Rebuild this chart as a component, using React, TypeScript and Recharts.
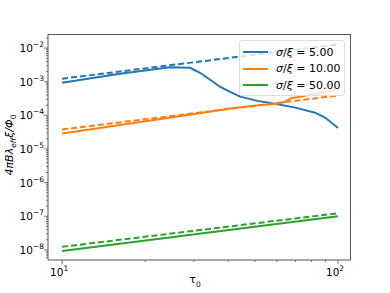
import { LineChart, Line, XAxis, YAxis } from "recharts";

// tau readings and values for each curve
const blueTau = [10, 16.2, 24.6, 29.1, 31.6, 34.4, 37.3, 40.6, 44.2, 51, 59, 70, 82.6, 90, 100];
const blueSolid = [9.3e-4, 1.73e-3, 2.7e-3, 2.6e-3, 1.85e-3, 1.15e-3, 7.1e-4, 5e-4, 3.6e-4, 2.7e-4, 2.2e-4, 1.7e-4, 1.2e-4, 8.5e-5, 4.2e-5];
const blueDashTau = [10, 100];
const blueDashed = [1.23e-3, 1.3e-2];

const orangeTau = [10, 29, 40.7, 50, 60, 64, 68, 72, 100];
const orangeSolid = [2.9e-5, 1.05e-4, 1.6e-4, 1.95e-4, 2.2e-4, 2.5e-4, 3.3e-4, 3.5e-4, 6.0e-4];
const orangeDashTau = [10, 100];
const orangeDashed = [3.8e-5, 3.9e-4];

const greenTau = [10, 100];
const greenSolid = [9.3e-9, 1.0e-7];
const greenDashed = [1.23e-8, 1.23e-7];

const xTicks = [10, 20, 30, 40, 50, 60, 70, 80, 90, 100];
const yTicks = [
  6e-9, 7e-9, 8e-9, 9e-9,
  1e-8, 2e-8, 3e-8, 4e-8, 5e-8, 6e-8, 7e-8, 8e-8, 9e-8,
  1e-7, 2e-7, 3e-7, 4e-7, 5e-7, 6e-7, 7e-7, 8e-7, 9e-7,
  1e-6, 2e-6, 3e-6, 4e-6, 5e-6, 6e-6, 7e-6, 8e-6, 9e-6,
  1e-5, 2e-5, 3e-5, 4e-5, 5e-5, 6e-5, 7e-5, 8e-5, 9e-5,
  1e-4, 2e-4, 3e-4, 4e-4, 5e-4, 6e-4, 7e-4, 8e-4, 9e-4,
  1e-3, 2e-3, 3e-3, 4e-3, 5e-3, 6e-3, 7e-3, 8e-3, 9e-3,
  1e-2, 2e-2,
];
const legendLabels = ["5.00", "10.00", "50.00"];
const colors = ["#1f77b4", "#ff7f0e", "#2ca02c"];

const toPoints = (tau: number[], vals: number[]) => tau.map((t, i) => ({ t, v: vals[i] }));

const FONT = "'DejaVu Sans', sans-serif";
const AXIS = "#555";

const majorExp = (v: number) => {
  const e = Math.round(Math.log10(v));
  return Math.abs(Math.log10(v) - e) < 1e-6 ? e : null;
};

const YTick = (props: any) => {
  const { x, y, payload } = props;
  const e = majorExp(payload.value);
  return (
    <g>
      <line x1={x - (e !== null ? 4 : 2)} x2={x} y1={y} y2={y} stroke={AXIS} strokeWidth={0.8} />
      {e !== null && (
        <text x={x - 4} y={y + 4} textAnchor="end" fontSize={10.5} fontFamily={FONT} fill="#000">
          10<tspan dy={-5} fontSize={7.5}>{e < 0 ? "\u2212" + Math.abs(e) : e}</tspan>
        </text>
      )}
    </g>
  );
};

const XTick = (props: any) => {
  const { x, y, payload } = props;
  const e = majorExp(payload.value);
  return (
    <g>
      <line x1={x} x2={x} y1={y} y2={y + (e !== null ? 4 : 2)} stroke={AXIS} strokeWidth={0.8} />
      {e !== null && (
        <text x={x - 3} y={y + 16} textAnchor="middle" fontSize={10.5} fontFamily={FONT} fill="#000">
          10<tspan dy={-5} fontSize={7.5}>{e}</tspan>
        </text>
      )}
    </g>
  );
};

export default function App() {
  return (
    <div style={{ position: "absolute", left: 0, top: 0, width: 390, height: 293, background: "#fff" }}>
      <LineChart width={390} height={293} margin={{ top: 34, right: 39, left: 0, bottom: 0 }}>
        <XAxis
          dataKey="t"
          type="number"
          scale="log"
          domain={[8.89, 111.4]}
          allowDataOverflow
          ticks={xTicks}
          interval={0}
          tick={<XTick />}
          tickLine={false}
          tickSize={0}
          tickMargin={0}
          height={33}
          axisLine={{ stroke: AXIS }}
        />
        <YAxis
          type="number"
          scale="log"
          domain={[5.0e-9, 2.63e-2]}
          allowDataOverflow
          ticks={yTicks}
          interval={0}
          tick={<YTick />}
          tickLine={false}
          tickSize={0}
          tickMargin={0}
          width={48}
          axisLine={{ stroke: AXIS }}
        />
        <Line data={toPoints(blueTau, blueSolid)} dataKey="v" stroke={colors[0]} strokeWidth={2} dot={false} isAnimationActive={false} />
        <Line data={toPoints(blueDashTau, blueDashed)} dataKey="v" stroke={colors[0]} strokeWidth={2} strokeDasharray="6 3" dot={false} isAnimationActive={false} />
        <Line data={toPoints(orangeTau, orangeSolid)} dataKey="v" stroke={colors[1]} strokeWidth={2} dot={false} isAnimationActive={false} />
        <Line data={toPoints(orangeDashTau, orangeDashed)} dataKey="v" stroke={colors[1]} strokeWidth={2} strokeDasharray="6 3" dot={false} isAnimationActive={false} />
        <Line data={toPoints(greenTau, greenSolid)} dataKey="v" stroke={colors[2]} strokeWidth={2} dot={false} isAnimationActive={false} />
        <Line data={toPoints(greenTau, greenDashed)} dataKey="v" stroke={colors[2]} strokeWidth={2} strokeDasharray="6 3" dot={false} isAnimationActive={false} />
      </LineChart>

      {/* axes frame (top / right spines) */}
      <div
        style={{
          position: "absolute",
          left: 48,
          top: 34,
          width: 303,
          height: 226,
          boxSizing: "border-box",
          borderTop: `1px solid ${AXIS}`,
          borderRight: `1px solid ${AXIS}`,
          pointerEvents: "none",
        }}
      />

      {/* y label */}
      <div
        style={{
          position: "absolute",
          left: 10,
          top: 145,
          transform: "translate(-50%, -50%) rotate(-90deg)",
          whiteSpace: "nowrap",
          fontFamily: FONT,
          fontSize: 11,
          lineHeight: "12px",
          fontStyle: "italic",
        }}
      >
        4πBλ<sub style={{ fontSize: 7.5, lineHeight: 0 }}>eff</sub>ξ/Φ<sub style={{ fontSize: 7.5, lineHeight: 0, fontStyle: "normal" }}>0</sub>
      </div>

      {/* x label */}
      <div style={{ position: "absolute", left: 195, top: 281, transform: "translate(-50%, -50%)", fontFamily: FONT, fontSize: 11 }}>
        τ<sub style={{ fontSize: 7.5 }}>0</sub>
      </div>

      {/* legend */}
      <div
        style={{
          position: "absolute",
          left: 239,
          top: 40,
          width: 106,
          height: 56,
          boxSizing: "border-box",
          background: "rgba(255,255,255,0.8)",
          border: "1px solid #ddd",
          borderRadius: 3,
          fontFamily: FONT,
          fontSize: 11,
        }}
      >
        {legendLabels.map((l, i) => (
          <div key={l} style={{ position: "absolute", left: 3, top: 3 + i * 16.5, height: 16, display: "flex", alignItems: "center" }}>
            <div style={{ width: 25, height: 2, background: colors[i], marginRight: 8 }} />
            <span style={{ whiteSpace: "nowrap" }}>
              <i>σ</i>/<i>ξ</i> = {l}
            </span>
          </div>
        ))}
      </div>
    </div>
  );
}
